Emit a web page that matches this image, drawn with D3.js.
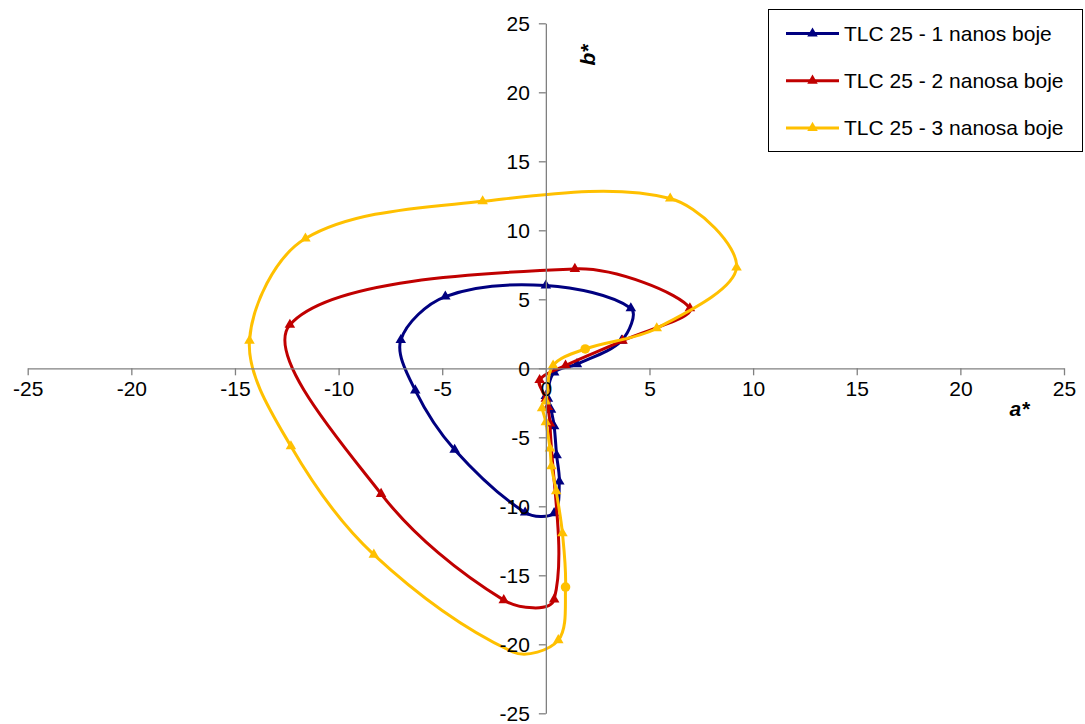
<!DOCTYPE html>
<html>
<head>
<meta charset="utf-8">
<script src="https://cdn.jsdelivr.net/npm/d3@7"></script>
<style>
  html, body { margin: 0; padding: 0; background: #fff; }
  svg { display: block; font-family: "Liberation Sans", Arial, sans-serif; }
</style>
</head>
<body>
<svg id="chart" width="1085" height="724"></svg>
<script>
// ---- data (a*, b*) ----
const seriesNames = ["TLC 25 - 1 nanos boje", "TLC 25 - 2 nanosa boje", "TLC 25 - 3 nanosa boje"];
const seriesColors = ["#000080", "#C00000", "#FFC000"];

const blueA = [0.0, 0.4, 1.5, 3.65, 4.1, 0.0, -4.85, -7.0, -6.3, -4.4, -1.0, 0.4, 0.65, 0.52, 0.4, 0.25, 0.1];
const blueB = [-2.0, -0.3, 0.3, 2.0, 4.35, 6.0, 5.2, 2.05, -1.6, -5.9, -10.45, -10.5, -8.2, -6.3, -4.2, -3.0, -2.2];
const blueM = ["t","t","t","t","t","t","t","t","t","t","t","t","t","t","t","t","t"];

const redA = [0.0, -0.3, 0.95, 3.7, 6.95, 1.4, -12.35, -7.95, -2.03, 0.4, 0.2, 0.1];
const redB = [-2.2, -0.85, 0.2, 2.0, 4.35, 7.2, 3.15, -9.1, -16.8, -16.75, -4.0, -2.8];
const redM = ["t","t","t","t","t","t","t","t","t","t","t","t"];

const yellowA = [0.0, 0.35, 1.9, 5.35, 9.2, 6.0, -3.05, -11.6, -14.3, -12.3, -8.3, -1.6, 0.6, 0.95, 0.8, 0.5, 0.27, 0.2, 0.0, -0.18];
const yellowB = [-2.4, 0.2, 1.4, 2.9, 7.3, 12.3, 12.1, 9.4, 2.0, -5.65, -13.5, -20.55, -19.7, -15.85, -11.95, -8.9, -7.1, -5.8, -3.9, -2.9];
const yellowM = ["t","t","c","t","t","t","t","t","t","t","t","n","t","c","t","t","t","t","t","t"];

const xTicks = [-25, -20, -15, -10, -5, 0, 5, 10, 15, 20, 25];
const yTicks = [-25, -20, -15, -10, -5, 0, 5, 10, 15, 20, 25];

const seriesA = [blueA, redA, yellowA];
const seriesB = [blueB, redB, yellowB];
const seriesM = [blueM, redM, yellowM];

// ---- layout ----
const svg = d3.select("#chart");
const x = d3.scaleLinear().domain([-25, 25]).range([27.7, 1064]);
const y = d3.scaleLinear().domain([-25, 25]).range([713.3, 23.3]);

const FS = 21;
const axisColor = "#808080";

// spreadsheet-style smoothed line: Bezier with tangents parallel to the
// neighbour chord, control lengths proportional to segment lengths
function smoothPath(pts) {
  const p = pts.map(d => [x(d[0]), y(d[1])]);
  const n = p.length;
  const dist = (a, b) => Math.hypot(b[0] - a[0], b[1] - a[1]);
  const path = d3.path();
  path.moveTo(p[0][0], p[0][1]);
  for (let i = 0; i < n - 1; i++) {
    const p0 = p[Math.max(i - 1, 0)], p1 = p[i], p2 = p[i + 1], p3 = p[Math.min(i + 2, n - 1)];
    const d0 = dist(p0, p1), d1 = dist(p1, p2), d2 = dist(p2, p3);
    const f1 = (d0 + d1) > 0 ? d1 / (d0 + d1) / 3 : 0;
    const f2 = (d1 + d2) > 0 ? d1 / (d1 + d2) / 3 : 0;
    const t1 = i === 0 ? [(p2[0] - p1[0]) * 1.5, (p2[1] - p1[1]) * 1.5] : [p2[0] - p0[0], p2[1] - p0[1]];
    const t2 = i + 1 === n - 1 ? [(p2[0] - p1[0]) * 1.5, (p2[1] - p1[1]) * 1.5] : [p3[0] - p1[0], p3[1] - p1[1]];
    const c1 = [p1[0] + t1[0] * f1, p1[1] + t1[1] * f1];
    const c2 = [p2[0] - t2[0] * f2, p2[1] - t2[1] * f2];
    path.bezierCurveTo(c1[0], c1[1], c2[0], c2[1], p2[0], p2[1]);
  }
  return path.toString();
}

const tri = d3.symbol().type(d3.symbolTriangle).size(48);

const plot = svg.append("g");
seriesA.forEach((aArr, i) => {
  const pts = aArr.map((a, k) => [a, seriesB[i][k], seriesM[i][k]]);
  const g = plot.append("g");
  g.append("path")
    .attr("d", smoothPath(pts))
    .attr("fill", "none")
    .attr("stroke", seriesColors[i])
    .attr("stroke-width", 3)
    .attr("stroke-linejoin", "round");
  g.selectAll("path.m").data(pts.filter(p => p[2] === "t")).enter()
    .append("path").attr("class", "m")
    .attr("d", tri)
    .attr("transform", d => `translate(${x(d[0])},${y(d[1])})`)
    .attr("fill", seriesColors[i]);
  g.selectAll("circle.m").data(pts.filter(p => p[2] === "c")).enter()
    .append("circle").attr("class", "m")
    .attr("cx", d => x(d[0])).attr("cy", d => y(d[1]))
    .attr("r", 4.8)
    .attr("fill", seriesColors[i]);
});

// ---- axes ----
const xAxisG = svg.append("g").attr("transform", `translate(0,${y(0)})`);
xAxisG.call(d3.axisBottom(x).tickValues(xTicks).tickSize(7).tickSizeOuter(0).tickFormat(d3.format("d")));
const yAxisG = svg.append("g").attr("transform", `translate(${x(0)},0)`);
yAxisG.call(d3.axisLeft(y).tickValues(yTicks).tickSize(7).tickSizeOuter(0).tickFormat(d3.format("d")));

[xAxisG, yAxisG].forEach(g => {
  g.select(".domain").attr("stroke", axisColor).attr("stroke-width", 1.3);
  g.selectAll(".tick line").attr("stroke", axisColor).attr("stroke-width", 1.3);
  g.selectAll(".tick text")
    .attr("fill", "#000")
    .style("font-size", FS + "px")
    .style("font-family", "'Liberation Sans', Arial, sans-serif");
});
xAxisG.selectAll(".tick text").attr("dy", "0.71em").attr("y", 13)
  .text(d => d < 0 ? "-" + Math.abs(d) : d);
yAxisG.selectAll(".tick text").attr("x", -16).attr("dy", "0.35em")
  .text(d => d < 0 ? "-" + Math.abs(d) : d);

// axis titles
svg.append("text")
  .attr("transform", `translate(${x(2.0)},${y(22.7)}) rotate(-90)`)
  .attr("text-anchor", "middle")
  .attr("dy", "0.35em")
  .style("font-size", FS + "px").style("font-weight", "bold").style("font-style", "italic")
  .text("b*");
svg.append("text")
  .attr("x", x(22.85)).attr("y", y(-2.9))
  .attr("text-anchor", "middle")
  .attr("dy", "0.35em")
  .style("font-size", FS + "px").style("font-weight", "bold").style("font-style", "italic")
  .text("a*");

// ---- legend ----
const lg = svg.append("g");
lg.append("rect")
  .attr("x", 768.5).attr("y", 9.5).attr("width", 314).attr("height", 142)
  .attr("fill", "#fff").attr("stroke", "#000").attr("stroke-width", 1);
seriesNames.forEach((name, i) => {
  const cy = 33.5 + i * 47.2;
  lg.append("line").attr("x1", 786).attr("x2", 839).attr("y1", cy).attr("y2", cy)
    .attr("stroke", seriesColors[i]).attr("stroke-width", 3);
  lg.append("path").attr("d", tri).attr("transform", `translate(812.5,${cy})`)
    .attr("fill", seriesColors[i]);
  lg.append("text").attr("x", 844).attr("y", cy).attr("dy", "0.35em")
    .style("font-size", FS + "px").attr("fill", "#000").text(name);
});
</script>
</body>
</html>
